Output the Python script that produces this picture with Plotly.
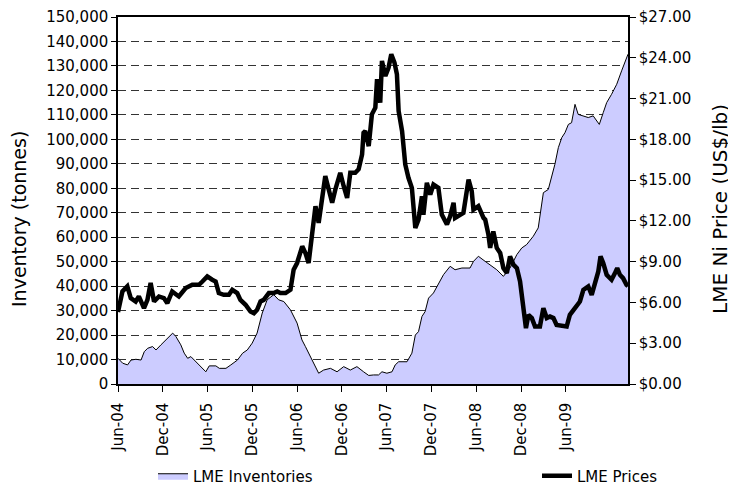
import plotly.graph_objects as go

inv_dates = ["2004-06-01","2004-06-20","2004-07-10","2004-07-24","2004-08-13","2004-09-03","2004-09-16","2004-09-30",
"2004-10-20","2004-11-03","2004-11-23","2004-12-14","2005-01-10","2005-01-23","2005-02-12","2005-02-26","2005-03-12",
"2005-03-25","2005-04-08","2005-04-28","2005-05-25","2005-06-08","2005-07-05","2005-07-19","2005-08-15","2005-09-04",
"2005-10-01","2005-10-22","2005-11-10","2005-11-30","2005-12-20","2006-01-10","2006-01-30","2006-02-26","2006-03-18",
"2006-04-08","2006-05-05","2006-06-01","2006-06-21","2006-07-05","2006-08-01","2006-08-28","2006-09-17","2006-10-15",
"2006-11-11","2006-12-08","2007-01-04","2007-01-31","2007-02-27","2007-03-20","2007-04-09","2007-04-29","2007-05-13",
"2007-06-02","2007-06-23","2007-07-06","2007-07-20","2007-08-23","2007-09-12","2007-09-26","2007-10-09","2007-10-23",
"2007-11-05","2007-11-19","2007-12-09","2007-12-29","2008-01-19","2008-02-15","2008-03-06","2008-04-03","2008-05-06",
"2008-05-20","2008-06-09","2008-07-07","2008-08-03","2008-08-23","2008-09-19","2008-10-16","2008-11-13","2008-12-03",
"2008-12-23","2009-01-19","2009-02-08","2009-02-15","2009-02-22","2009-03-01","2009-03-21","2009-04-04","2009-04-17",
"2009-05-01","2009-05-15","2009-05-28","2009-06-11","2009-06-24","2009-07-08","2009-07-21","2009-08-11","2009-08-31",
"2009-09-20","2009-10-15","2009-10-31","2009-11-14","2009-12-04","2009-12-25","2010-01-14","2010-02-03","2010-02-09"]
inv_tonnes = [10500,8500,7800,9800,10100,9800,13200,14600,
15300,13900,16000,18000,20800,19400,16000,12600,10500,
11200,9800,7800,5000,7400,7400,6400,6400,7800,
9800,12600,13900,16700,20800,29000,34400,36500,34400,
33700,30300,24900,18000,15300,9800,4400,5700,6400,
5000,7100,5700,7100,5000,3500,3700,3700,5000,
4400,5000,7800,9100,9100,12600,20000,21400,27600,
29600,35100,37200,40600,44700,48100,46700,47400,47400,
50100,52200,50100,48100,46700,44000,47400,52900,55600,
57000,60400,63800,69300,74700,78200,79500,84300,89800,
96600,100700,102700,106100,106800,114300,110200,109600,108900,
109600,106100,110900,115000,118400,122500,128000,133500,134800]

price_dates = ["2004-06-01","2004-06-19","2004-07-09","2004-07-23","2004-08-12","2004-08-25","2004-09-15","2004-09-29",
"2004-10-12","2004-10-26","2004-11-15","2004-12-05","2004-12-19","2005-01-08","2005-02-04","2005-03-04","2005-03-31",
"2005-04-27","2005-05-11","2005-05-31","2005-06-20","2005-07-04","2005-07-17","2005-08-06","2005-08-27","2005-09-10",
"2005-09-30","2005-10-13","2005-11-03","2005-11-23","2005-12-07","2005-12-20","2006-01-03","2006-01-16","2006-02-06",
"2006-02-26","2006-03-12","2006-03-25","2006-04-15","2006-05-05","2006-05-18","2006-06-01","2006-06-22","2006-07-05",
"2006-07-18","2006-08-01","2006-08-15","2006-08-28","2006-09-11","2006-09-24","2006-10-08","2006-10-22","2006-11-04",
"2006-11-24","2006-12-08","2006-12-22","2007-01-04","2007-01-24","2007-02-07","2007-02-21","2007-02-27","2007-03-06",
"2007-03-20","2007-04-02","2007-04-16","2007-04-23","2007-05-06","2007-05-13","2007-05-27","2007-06-09","2007-06-20",
"2007-07-03","2007-07-13","2007-07-20","2007-08-03","2007-08-16","2007-08-29","2007-09-12","2007-09-26","2007-10-09",
"2007-10-23","2007-10-29","2007-11-12","2007-11-26","2007-12-09","2007-12-29","2008-01-12","2008-02-02","2008-02-15",
"2008-02-29","2008-03-06","2008-03-27","2008-04-09","2008-04-30","2008-05-13","2008-05-20","2008-06-09","2008-06-30",
"2008-07-07","2008-07-20","2008-07-27","2008-08-09","2008-08-23","2008-09-06","2008-09-19","2008-10-03","2008-10-16",
"2008-10-30","2008-11-13","2008-11-26","2008-12-09","2008-12-20","2008-12-30","2009-01-13","2009-01-26","2009-02-15",
"2009-03-01","2009-03-15","2009-03-28","2009-04-11","2009-04-24","2009-05-21","2009-06-04","2009-06-17","2009-07-08",
"2009-07-28","2009-08-11","2009-08-31","2009-09-14","2009-09-27","2009-10-11","2009-10-20","2009-10-31","2009-11-14",
"2009-12-04","2009-12-18","2009-12-27","2010-01-07","2010-01-20","2010-02-03","2010-02-09"]
price_usd_lb = [5.30,6.81,7.18,6.32,6.07,6.44,5.58,6.19,
7.43,6.07,6.44,6.32,5.95,6.81,6.44,7.06,7.30,
7.30,7.54,7.91,7.67,7.54,6.69,6.56,6.56,6.93,
6.69,6.19,5.83,5.33,5.21,5.46,6.07,6.19,6.69,
6.69,6.81,6.69,6.69,6.93,8.41,8.90,10.13,9.64,
8.90,11.11,13.08,11.85,13.57,15.29,14.31,13.33,14.31,
15.54,14.55,13.69,15.54,15.54,15.80,16.89,18.49,18.61,
17.50,19.84,20.33,22.42,20.70,23.77,22.66,23.28,24.26,
23.65,22.79,20.08,18.61,16.15,15.17,14.43,11.48,12.09,
13.81,12.46,14.80,13.94,14.68,14.43,12.46,11.73,12.34,
13.33,12.22,12.46,12.59,15.04,14.18,12.83,13.08,12.22,
12.09,10.99,10.01,11.23,10.01,9.64,8.53,8.16,9.39,
8.78,8.53,7.54,5.58,4.11,5.09,4.85,4.23,4.23,
5.58,4.85,4.96,4.85,4.35,4.23,4.23,5.09,5.58,
6.07,6.93,7.18,6.56,7.54,8.28,9.39,8.90,8.04,
7.67,8.16,8.53,8.04,7.79,7.30,7.20]

tick_dates = ["2004-06-01","2004-12-01","2005-06-01","2005-12-01","2006-06-01","2006-12-01",
              "2007-06-01","2007-12-01","2008-06-01","2008-12-01","2009-06-01"]
tick_labels = ["Jun-04","Dec-04","Jun-05","Dec-05","Jun-06","Dec-06",
               "Jun-07","Dec-07","Jun-08","Dec-08","Jun-09"]

left_title = "Inventory (tonnes)"
right_title = "LME Ni Price (US$/lb)"

FONT = "DejaVu Sans"

fig = go.Figure()
fig.add_trace(go.Scatter(x=inv_dates, y=inv_tonnes, name="LME Inventories", mode="lines",
                         fill="tozeroy", fillcolor="#CCCCFF", line=dict(color="black", width=1),
                         yaxis="y", legend="legend"))
fig.add_trace(go.Scatter(x=price_dates, y=price_usd_lb, name="LME Prices", mode="lines",
                         line=dict(color="black", width=4.5), yaxis="y2", legend="legend2"))

# page body adds an 8px offset; figure sized to fill the 736x487 window exactly
W, H = 728, 479
L, R, T, B = 110, 108, 9, 103
PW, PH = W - L - R, H - T - B
legend_common = dict(orientation="h", yref="container", xref="container",
                     yanchor="middle", xanchor="left", font=dict(size=15),
                     bgcolor="rgba(0,0,0,0)", borderwidth=0)

fig.update_layout(
    width=W, height=H,
    margin=dict(l=L, r=R, t=T, b=B, autoexpand=False),
    paper_bgcolor="white", plot_bgcolor="white",
    font=dict(family=FONT, size=15, color="black"),
    showlegend=True,
    legend=dict(x=145 / W, y=(H - 468) / H, **legend_common),
    legend2=dict(x=529 / W, y=(H - 468) / H, **legend_common),
    xaxis=dict(type="date", range=["2004-06-01", "2010-02-09"],
               tickvals=tick_dates, ticktext=tick_labels, tickangle=-90,
               ticks="outside", ticklen=6, tickcolor="black", ticklabelstandoff=5,
               showline=True, linecolor="black", linewidth=1.5, mirror=True,
               showgrid=False, zeroline=False, tickfont=dict(size=15), automargin=False),
    yaxis=dict(range=[0, 150000], dtick=10000, tickformat=",",
               ticks="outside", ticklen=5, tickcolor="black",
               showline=True, linecolor="black", linewidth=1.5,
               showgrid=True, gridcolor="#333333", griddash="8px,5px", gridwidth=1,
               zeroline=False, automargin=False, tickfont=dict(size=15)),
    yaxis2=dict(range=[0, 27], dtick=3, tickformat=".2f", tickprefix="$",
                overlaying="y", side="right",
                ticks="outside", ticklen=6, tickcolor="black",
                showline=True, linecolor="black", linewidth=1.5,
                showgrid=False, zeroline=False, automargin=False,
                tickfont=dict(size=15)),
    annotations=[
        dict(text=left_title, textangle=-90, showarrow=False,
             xref="paper", yref="paper", x=(11 - L) / PW, y=1 - (211 - T) / PH,
             xanchor="center", yanchor="middle", font=dict(size=19)),
        dict(text=right_title, textangle=-90, showarrow=False,
             xref="paper", yref="paper", x=(712 - L) / PW, y=1 - (201 - T) / PH,
             xanchor="center", yanchor="middle", font=dict(size=20)),
    ],
)

fig.write_html("out.html")
